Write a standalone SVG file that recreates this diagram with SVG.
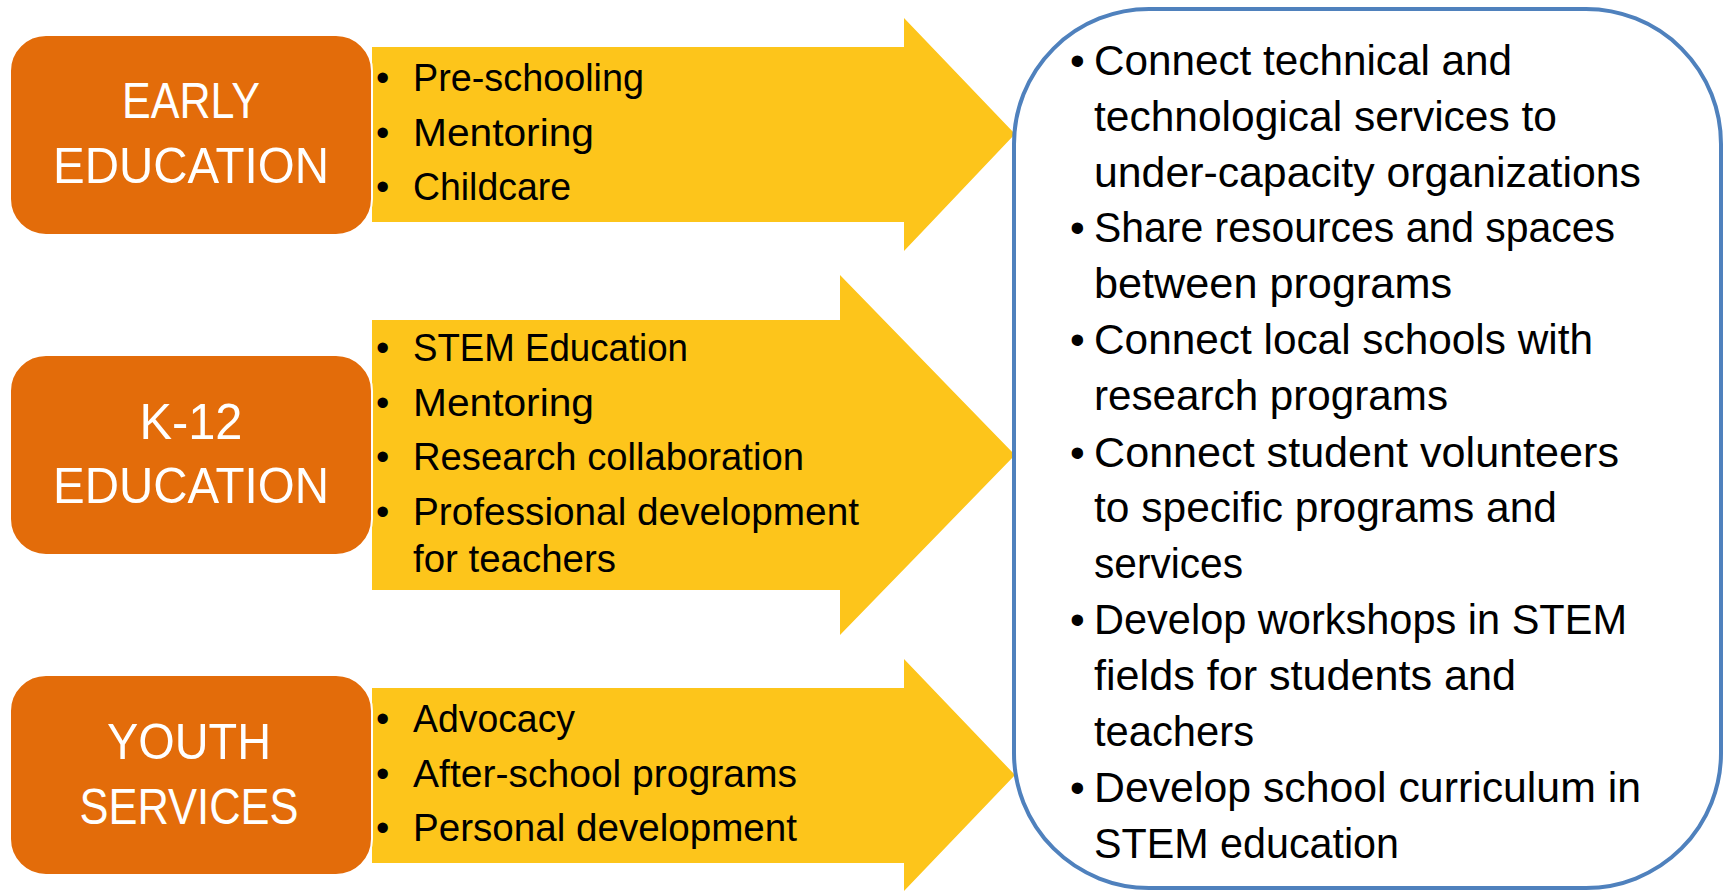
<svg xmlns="http://www.w3.org/2000/svg" width="1725" height="891" viewBox="0 0 1725 891">
<style>
.arrow{fill:#FDC51B;stroke:none}
.box{fill:#E36C0A;stroke:#FFFFFF;stroke-width:2}
.lbl{font-family:"Liberation Sans",Arial,sans-serif;font-size:50px;fill:#FFFFFF;text-anchor:middle}
.li{font-family:"Liberation Sans",Arial,sans-serif;font-size:38px;fill:#000000}
.ri{font-family:"Liberation Sans",Arial,sans-serif;font-size:42px;fill:#000000}
.panel{fill:#FFFFFF;stroke:#4F81BD;stroke-width:4}
</style>
<rect width="1725" height="891" fill="#FFFFFF"/>
<g id="connectors">
<polygon class="arrow" points="372,47 904,47 904,18 1015,134 904,251 904,222 372,222"/>
<polygon class="arrow" points="372,320 840,320 840,275 1015,455 840,635 840,590 372,590"/>
<polygon class="arrow" points="372,688 904,688 904,659 1015,775 904,891 904,863 372,863"/>
</g>
<g id="early-education">
<rect class="box" x="10" y="35" width="362" height="200" rx="36" ry="36"/>
<text class="lbl" x="191" y="118" textLength="138" lengthAdjust="spacingAndGlyphs">EARLY</text>
<text class="lbl" x="191" y="183" textLength="276" lengthAdjust="spacingAndGlyphs">EDUCATION</text>
</g>
<g id="early-list">
<text class="li" x="376" y="91">•</text><text class="li" x="413" y="91" textLength="231" lengthAdjust="spacingAndGlyphs">Pre-schooling</text>
<text class="li" x="376" y="146">•</text><text class="li" x="413" y="146" textLength="181" lengthAdjust="spacingAndGlyphs">Mentoring</text>
<text class="li" x="376" y="200">•</text><text class="li" x="413" y="200" textLength="158" lengthAdjust="spacingAndGlyphs">Childcare</text>
</g>
<g id="k12-education">
<rect class="box" x="10" y="355" width="362" height="200" rx="36" ry="36"/>
<text class="lbl" x="191" y="439" textLength="103" lengthAdjust="spacingAndGlyphs">K-12</text>
<text class="lbl" x="191" y="503" textLength="276" lengthAdjust="spacingAndGlyphs">EDUCATION</text>
</g>
<g id="k12-list">
<text class="li" x="376" y="361">•</text><text class="li" x="413" y="361" textLength="275" lengthAdjust="spacingAndGlyphs">STEM Education</text>
<text class="li" x="376" y="416">•</text><text class="li" x="413" y="416" textLength="181" lengthAdjust="spacingAndGlyphs">Mentoring</text>
<text class="li" x="376" y="470">•</text><text class="li" x="413" y="470" textLength="391" lengthAdjust="spacingAndGlyphs">Research collaboration</text>
<text class="li" x="376" y="525">•</text><text class="li" x="413" y="525" textLength="446" lengthAdjust="spacingAndGlyphs">Professional development</text>
<text class="li" x="413" y="572" textLength="203" lengthAdjust="spacingAndGlyphs">for teachers</text>
</g>
<g id="youth-services">
<rect class="box" x="10" y="675" width="362" height="200" rx="36" ry="36"/>
<text class="lbl" x="189" y="759" textLength="164" lengthAdjust="spacingAndGlyphs">YOUTH</text>
<text class="lbl" x="189" y="824" textLength="219" lengthAdjust="spacingAndGlyphs">SERVICES</text>
</g>
<g id="youth-list">
<text class="li" x="376" y="732">•</text><text class="li" x="413" y="732" textLength="162" lengthAdjust="spacingAndGlyphs">Advocacy</text>
<text class="li" x="376" y="787">•</text><text class="li" x="413" y="787" textLength="384" lengthAdjust="spacingAndGlyphs">After-school programs</text>
<text class="li" x="376" y="841">•</text><text class="li" x="413" y="841" textLength="384" lengthAdjust="spacingAndGlyphs">Personal development</text>
</g>
<g id="outcomes">
<rect class="panel" x="1014" y="9" width="707" height="879" rx="135" ry="135"/>
<text class="ri" x="1070" y="75">•</text><text class="ri" x="1094" y="75" textLength="418" lengthAdjust="spacingAndGlyphs">Connect technical and</text>
<text class="ri" x="1094" y="131" textLength="463" lengthAdjust="spacingAndGlyphs">technological services to</text>
<text class="ri" x="1094" y="187" textLength="547" lengthAdjust="spacingAndGlyphs">under-capacity organizations</text>
<text class="ri" x="1070" y="242">•</text><text class="ri" x="1094" y="242" textLength="521" lengthAdjust="spacingAndGlyphs">Share resources and spaces</text>
<text class="ri" x="1094" y="298" textLength="358" lengthAdjust="spacingAndGlyphs">between programs</text>
<text class="ri" x="1070" y="354">•</text><text class="ri" x="1094" y="354" textLength="499" lengthAdjust="spacingAndGlyphs">Connect local schools with</text>
<text class="ri" x="1094" y="410" textLength="354" lengthAdjust="spacingAndGlyphs">research programs</text>
<text class="ri" x="1070" y="467">•</text><text class="ri" x="1094" y="467" textLength="525" lengthAdjust="spacingAndGlyphs">Connect student volunteers</text>
<text class="ri" x="1094" y="522" textLength="463" lengthAdjust="spacingAndGlyphs">to specific programs and</text>
<text class="ri" x="1094" y="578" textLength="149" lengthAdjust="spacingAndGlyphs">services</text>
<text class="ri" x="1070" y="634">•</text><text class="ri" x="1094" y="634" textLength="533" lengthAdjust="spacingAndGlyphs">Develop workshops in STEM</text>
<text class="ri" x="1094" y="690" textLength="422" lengthAdjust="spacingAndGlyphs">fields for students and</text>
<text class="ri" x="1094" y="746" textLength="160" lengthAdjust="spacingAndGlyphs">teachers</text>
<text class="ri" x="1070" y="802">•</text><text class="ri" x="1094" y="802" textLength="547" lengthAdjust="spacingAndGlyphs">Develop school curriculum in</text>
<text class="ri" x="1094" y="858" textLength="305" lengthAdjust="spacingAndGlyphs">STEM education</text>
</g>
</svg>
